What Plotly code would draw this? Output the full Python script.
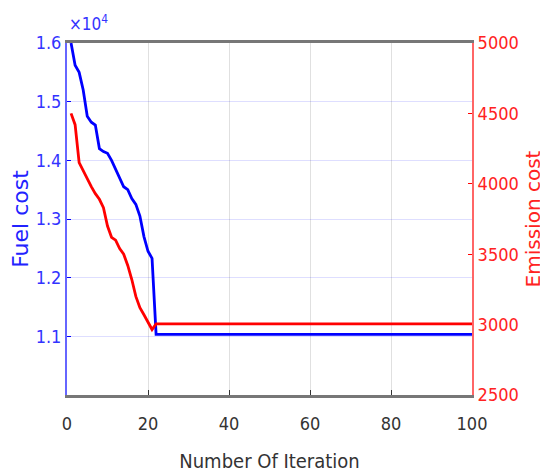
import plotly.graph_objects as go

iterations = list(range(1, 101))
fuel_head = [16000, 15620, 15500, 15200, 14750, 14650, 14600, 14200, 14150, 14120,
             14000, 13850, 13700, 13550, 13500, 13350, 13250, 13050, 12700, 12450,
             12330]
fuel_final = 11035
emission_head = [4500, 4420, 4150, 4090, 4040, 3980, 3930, 3890, 3830, 3700,
                 3620, 3600, 3540, 3500, 3420, 3320, 3200, 3120, 3070, 3020,
                 2965]
emission_final = 3005

fuel_cost = fuel_head + [fuel_final] * (len(iterations) - len(fuel_head))
emission_cost = emission_head + [emission_final] * (len(iterations) - len(emission_head))

left_ticks = [11000, 12000, 13000, 14000, 15000, 16000]
left_labels = ["1.1", "1.2", "1.3", "1.4", "1.5", "1.6"]
x_ticks = [0, 20, 40, 60, 80, 100]

FONT = "DejaVu Sans Condensed, Liberation Sans, Arial, sans-serif"
TFONT = "DejaVu Sans, Liberation Sans, Arial, sans-serif"

fig = go.Figure()
fig.add_trace(go.Scatter(x=iterations, y=fuel_cost, mode="lines",
                         line=dict(color="#0000FF", width=2.8), yaxis="y"))
fig.add_trace(go.Scatter(x=iterations, y=emission_cost, mode="lines",
                         line=dict(color="#FF0000", width=2.8), yaxis="y2"))

fig.update_layout(
    width=540, height=467,
    margin=dict(l=59, r=76, t=35, b=80),
    paper_bgcolor="white", plot_bgcolor="white",
    showlegend=False,
    font=dict(family=FONT, size=18),
    xaxis=dict(range=[0, 100], tickvals=x_ticks, showgrid=True,
               gridcolor="rgba(0,0,0,0.12)", gridwidth=1,
               showline=True, linecolor="#777777", linewidth=3, mirror=True,
               ticks="inside", ticklen=5, tickcolor="#333333",
               ticklabelstandoff=10,
               tickfont=dict(color="#333333", size=18, family=FONT),
               title=dict(text="Number Of Iteration",
                          font=dict(color="#333333", size=20, family=FONT),
                          standoff=22),
               zeroline=False, automargin=False),
    yaxis=dict(range=[10000, 16000], tickvals=left_ticks, ticktext=left_labels,
               showgrid=True, gridcolor="rgba(0,0,255,0.13)", gridwidth=1,
               showline=True, linecolor="#6666FF", linewidth=2,
               ticks="inside", ticklen=4, tickcolor="#0000FF",
               tickfont=dict(color="#3333FF", size=18, family=FONT),
               title=dict(text="Fuel cost",
                          font=dict(color="#2222FF", size=22, family=TFONT),
                          standoff=12),
               zeroline=False, automargin=False),
    yaxis2=dict(range=[2500, 5000], dtick=500, overlaying="y", side="right",
                showgrid=False, showline=True, linecolor="#FF6666", linewidth=2,
                ticks="inside", ticklen=4, tickcolor="#FF0000",
                tickfont=dict(color="#FF2222", size=18, family=FONT),
                title=dict(text="Emission cost",
                           font=dict(color="#FF2222", size=20, family=TFONT),
                           standoff=8),
                zeroline=False, automargin=False),
    annotations=[dict(text="\u00d710<sup>4</sup>", x=0, y=1, xref="paper", yref="paper",
                      xanchor="left", yanchor="bottom", showarrow=False,
                      font=dict(color="#3333FF", size=17, family=FONT), yshift=7)],
)

fig.write_html("out.html")
